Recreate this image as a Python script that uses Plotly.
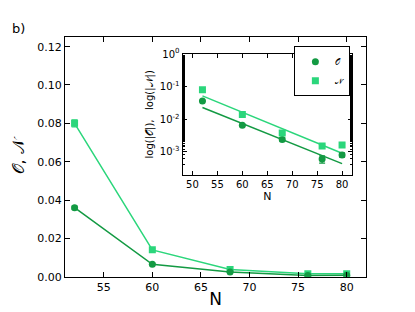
import plotly.graph_objects as go

N_vals = [52, 60, 68, 76, 80]
O_vals = [0.036, 0.0065, 0.0024, 0.0006, 0.0008]
O_err = [0.0008, 0.0004, 0.0003, 0.00015, 0.00012]
Nn_vals = [0.080, 0.014, 0.0038, 0.0015, 0.0016]
Nn_err = [0.0018, 0.0005, 0.0003, 0.0002, 0.0002]

fit_x = [52, 80]
fit_O = [0.023, 0.00043]
fit_N = [0.052, 0.00090]

main_yticks = [0.00, 0.02, 0.04, 0.06, 0.08, 0.10, 0.12]
main_xticks = [55, 60, 65, 70, 75, 80]
inset_xticks = [50, 55, 60, 65, 70, 75, 80]
inset_yticks = [1e-3, 1e-2, 1e-1, 1]
inset_ylabels = ["10<sup>-3</sup>", "10<sup>-2</sup>", "10<sup>-1</sup>", "10<sup>0</sup>"]

DARK = "#139a43"
LIGHT = "#2bd67b"
FONT = "DejaVu Sans"

fig = go.Figure()
# main
fig.add_trace(go.Scatter(x=N_vals, y=Nn_vals, mode="lines+markers",
                         error_y=dict(type="data", array=Nn_err, color=LIGHT, thickness=1.2, width=3),
                         line=dict(color=LIGHT, width=1.5),
                         marker=dict(symbol="square", size=7, color=LIGHT),
                         showlegend=False, xaxis="x", yaxis="y"))
fig.add_trace(go.Scatter(x=N_vals, y=O_vals, mode="lines+markers",
                         error_y=dict(type="data", array=O_err, color=DARK, thickness=1.2, width=3),
                         line=dict(color=DARK, width=1.5),
                         marker=dict(symbol="circle", size=7, color=DARK),
                         showlegend=False, xaxis="x", yaxis="y"))
# inset
fig.add_trace(go.Scatter(x=fit_x, y=fit_O, mode="lines", line=dict(color=DARK, width=1.5),
                         showlegend=False, xaxis="x2", yaxis="y2"))
fig.add_trace(go.Scatter(x=fit_x, y=fit_N, mode="lines", line=dict(color=LIGHT, width=1.5),
                         showlegend=False, xaxis="x2", yaxis="y2"))
fig.add_trace(go.Scatter(x=N_vals, y=O_vals, mode="markers", name="𝒪",
                         error_y=dict(type="data", array=O_err, color=DARK, thickness=1.2, width=3),
                         marker=dict(symbol="circle", size=7, color=DARK),
                         xaxis="x2", yaxis="y2"))
fig.add_trace(go.Scatter(x=N_vals, y=Nn_vals, mode="markers", name="𝒩",
                         error_y=dict(type="data", array=Nn_err, color=LIGHT, thickness=1.2, width=3),
                         marker=dict(symbol="square", size=7, color=LIGHT),
                         xaxis="x2", yaxis="y2"))

axis_common = dict(showline=True, linecolor="black", linewidth=1, mirror="ticks",
                   ticks="inside", tickcolor="black", showgrid=False, zeroline=False,
                   tickfont=dict(family=FONT, size=11, color="black"))

fig.update_layout(
    width=415, height=312,
    margin=dict(l=0, r=0, t=0, b=0),
    paper_bgcolor="white", plot_bgcolor="white",
    font=dict(family=FONT, color="black"),
    xaxis=dict(domain=[0.137, 0.863], range=[51, 82], tickvals=main_xticks, ticklen=5,
               title=dict(text="N", font=dict(size=17), standoff=0), anchor="y", **axis_common),
    yaxis=dict(domain=[0.1218, 0.926], range=[0, 0.125], tickvals=main_yticks, tickformat=".2f",
               ticklen=5, title=dict(text="𝒪, 𝒩", font=dict(size=16), standoff=8), anchor="x",
               **axis_common),
    xaxis2=dict(domain=[0.4205, 0.829], range=[48, 82], tickvals=inset_xticks, ticklen=4,
                title=dict(text="N", font=dict(size=11), standoff=2), anchor="y2",
                **{**axis_common, "tickfont": dict(family=FONT, size=10, color="black")}),
    yaxis2=dict(domain=[0.4647, 0.8686], type="log", range=[-3.7, 0], tickvals=inset_yticks,
                ticktext=inset_ylabels, ticklen=4,
                minor=dict(ticks="inside", ticklen=2, tickcolor="black", showgrid=False),
                title=dict(text="log(|𝒪|),   log(|𝒩|)", font=dict(size=10), standoff=4), anchor="x2",
                **{**axis_common, "tickfont": dict(family=FONT, size=10, color="black")}),
    legend=dict(x=0.825, y=0.895, xanchor="right", yanchor="top", bgcolor="white",
                bordercolor="black", borderwidth=1, font=dict(size=8, family=FONT),
                itemwidth=30, tracegroupgap=0),
    annotations=[dict(text="b)", x=0.005, y=0.985, xref="paper", yref="paper",
                      xanchor="left", yanchor="top", showarrow=False,
                      font=dict(size=13, family=FONT, color="black"))],
)

fig.write_html("out.html")
